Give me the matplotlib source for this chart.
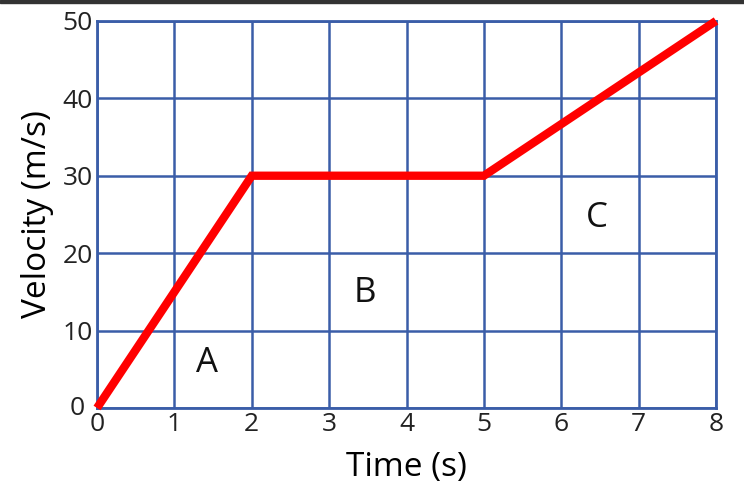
import matplotlib

matplotlib.use("Agg")
import matplotlib.pyplot as plt
from matplotlib.patches import Rectangle
from matplotlib.transforms import ScaledTranslation

# Velocity-time data
times = [0, 2, 5, 8]
velocity = [0, 30, 30, 50]
x_ticks = [0, 1, 2, 3, 4, 5, 6, 7, 8]
y_ticks = [0, 10, 20, 30, 40, 50]
region_labels = ["A", "B", "C"]
region_x = [1.42, 3.46, 6.46]
region_y = [5.8, 14.9, 24.5]

BLUE = "#3a5da8"
plt.rcParams["font.family"] = ["Open Sans", "DejaVu Sans"]

fig = plt.figure(figsize=(7.44, 4.95), dpi=100)
ax = fig.add_axes([0.1304, 0.1758, 0.832, 0.782])

# thin dark strip along the top edge
fig.patches.append(Rectangle((0, 0.994), 1, 0.006, transform=fig.transFigure,
                             color="#333333", zorder=10))

ax.plot(times, velocity, color="#ff0000", lw=6, solid_capstyle="butt",
        solid_joinstyle="miter", zorder=3, clip_on=False)

ax.set_xlim(0, 8)
ax.set_ylim(0, 50)
ax.set_xticks(x_ticks)
ax.set_yticks(y_ticks)
ax.grid(True, color=BLUE, lw=1.8)
for s in ax.spines.values():
    s.set_color(BLUE)
    s.set_linewidth(2)
ax.tick_params(axis="x", length=0, labelsize=19, pad=3, colors="#222222")
ax.tick_params(axis="y", length=0, labelsize=19, pad=3, colors="#222222")

# nudge the y "0" left so it sits beside the x "0", as in the original
fig.canvas.draw()
y0 = ax.get_yticklabels()[0]
y0.set_transform(y0.get_transform() + ScaledTranslation(-6 / 72, 2 / 72, fig.dpi_scale_trans))

for lab, xx, yy in zip(region_labels, region_x, region_y):
    ax.text(xx, yy, lab, fontsize=25, ha="center", va="center", color="#111111")

ax.set_xlabel("Time (s)", fontsize=24, labelpad=10)
ax.set_ylabel("Velocity (m/s)", fontsize=24, labelpad=6)

fig.savefig("out.png", dpi=100)
